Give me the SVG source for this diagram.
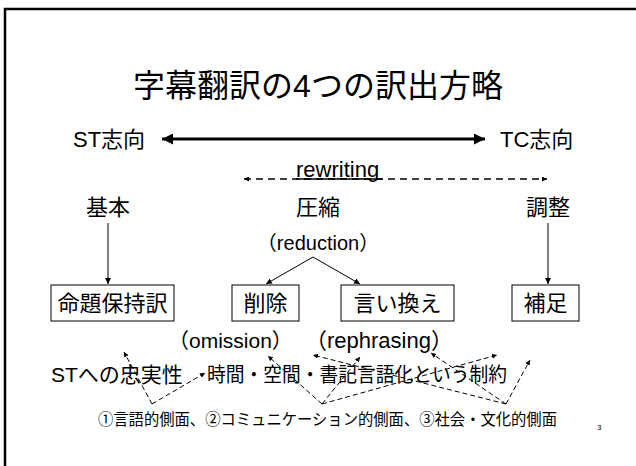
<svg xmlns="http://www.w3.org/2000/svg" width="636" height="466" viewBox="0 0 636 466">
<defs>
<style>
text{font-family:"Liberation Sans","Noto Sans CJK JP",sans-serif;fill:#000}
.t22{font-size:22px}
.t20{font-size:20px}
.box{fill:#fff;stroke:#000;stroke-width:1}
.thin{stroke:#000;stroke-width:1;fill:none}
.dash{stroke:#000;stroke-width:1;fill:none;stroke-dasharray:5 3}
</style>
<marker id="ah" viewBox="0 0 10 10" refX="10" refY="5" markerWidth="6" markerHeight="6" orient="auto-start-reverse" markerUnits="userSpaceOnUse"><path d="M0,0L10,5L0,10z" fill="#000"/></marker>
<marker id="big" viewBox="0 0 10 10" refX="10" refY="5" markerWidth="14" markerHeight="11" orient="auto-start-reverse" markerUnits="userSpaceOnUse"><path d="M0,0L10,5L0,10z" fill="#000"/></marker>
<marker id="sm" viewBox="0 0 10 10" refX="10" refY="5" markerWidth="5" markerHeight="5" orient="auto-start-reverse" markerUnits="userSpaceOnUse"><path d="M0,0L10,5L0,10z" fill="#000"/></marker>
</defs>
<rect x="5" y="9" width="700" height="500" fill="none" stroke="#000" stroke-width="2.5"/>
<text x="318" y="97" font-size="32" text-anchor="middle">字幕翻訳の4つの訳出方略</text>

<g id="st-orient"><text class="t22" x="73" y="147">ST志向</text></g>
<g id="tc-orient"><text class="t22" x="500" y="147">TC志向</text></g>
<g id="rewriting"><text x="296" y="177" font-size="22">rewriting</text></g>
<g id="kihon"><text class="t22" x="108" y="215" text-anchor="middle">基本</text></g>
<g id="asshuku"><text class="t22" x="318" y="215" text-anchor="middle">圧縮</text>
<text class="t20" x="318" y="250" text-anchor="middle">（reduction）</text></g>
<g id="chosei"><text class="t22" x="548" y="215" text-anchor="middle">調整</text></g>

<g id="meidai"><rect class="box" x="51" y="285" width="123" height="36"/><text class="t22" x="112.5" y="311" text-anchor="middle">命題保持訳</text></g>
<g id="sakujo"><rect class="box" x="232" y="285" width="67" height="36"/><text class="t22" x="265.5" y="311" text-anchor="middle">削除</text></g>
<g id="iikae"><rect class="box" x="341" y="285" width="113" height="36"/><text class="t22" x="397.5" y="311" text-anchor="middle">言い換え</text></g>
<g id="hosoku"><rect class="box" x="512" y="285" width="67" height="36"/><text class="t22" x="545.5" y="311" text-anchor="middle">補足</text></g>

<g id="omission"><text x="168" y="348" font-size="21">（omission）</text></g>
<g id="rephrasing"><text x="305" y="348" font-size="22">（rephrasing）</text></g>
<g id="fidelity"><text x="51" y="382" font-size="21">STへの忠実性</text></g>
<g id="constraint"><text class="t20" x="207" y="382" textLength="300" lengthAdjust="spacingAndGlyphs">時間・空間・書記言語化という制約</text></g>
<g id="aspects"><text x="98" y="425" font-size="16" textLength="459" lengthAdjust="spacingAndGlyphs">①言語的側面、②コミュニケーション的側面、③社会・文化的側面</text></g>
<text x="597" y="430" font-size="8" fill="#555">3</text>

<g id="connectors">
<line x1="162" y1="139" x2="485" y2="139" stroke="#000" stroke-width="3" marker-start="url(#big)" marker-end="url(#big)"/>
<line x1="244" y1="179" x2="547" y2="179" stroke="#000" stroke-width="1.5" stroke-dasharray="7 5" marker-start="url(#sm)" marker-end="url(#sm)"/>
<line x1="296" y1="179" x2="382" y2="179" stroke="#000" stroke-width="1.5"/>
<line class="thin" x1="108" y1="223" x2="108" y2="284" marker-end="url(#ah)"/>
<line class="thin" x1="548" y1="223" x2="548" y2="284" marker-end="url(#ah)"/>
<line class="thin" x1="313" y1="257" x2="266" y2="284" marker-end="url(#ah)"/>
<line class="thin" x1="313" y1="257" x2="360" y2="284" marker-end="url(#ah)"/>
<line class="dash" x1="152" y1="404" x2="124" y2="352" marker-end="url(#sm)"/>
<line class="dash" x1="152" y1="404" x2="205" y2="373" marker-end="url(#sm)"/>
<line class="dash" x1="322" y1="404" x2="268" y2="356" marker-end="url(#sm)"/>
<line class="dash" x1="322" y1="404" x2="360" y2="357" marker-end="url(#sm)"/>
<line class="dash" x1="322" y1="404" x2="497" y2="355" marker-end="url(#sm)"/>
<line class="dash" x1="506" y1="404" x2="313" y2="355" marker-end="url(#sm)"/>
<line class="dash" x1="506" y1="404" x2="431" y2="353" marker-end="url(#sm)"/>
<line class="dash" x1="506" y1="404" x2="530" y2="360" marker-end="url(#sm)"/>
</g>
</svg>
